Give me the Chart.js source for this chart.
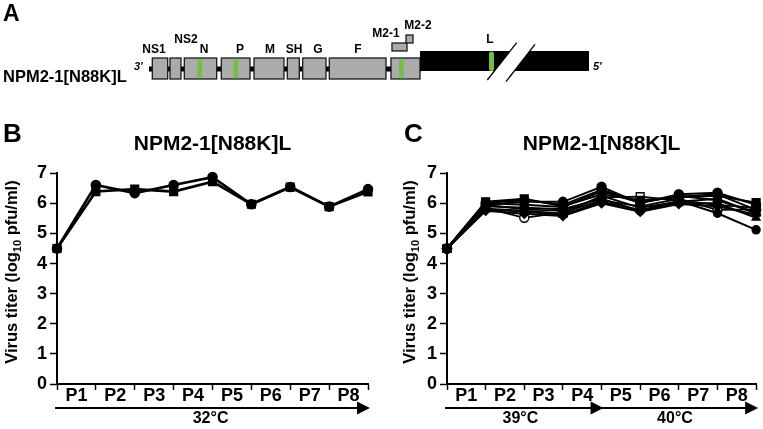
<!DOCTYPE html>
<html>
<head>
<meta charset="utf-8">
<script src="https://cdn.jsdelivr.net/npm/chart.js@4.4.1/dist/chart.umd.min.js"></script>
<style>
  html, body { margin: 0; padding: 0; background: #fff; }
  #page { position: relative; width: 763px; height: 429px; overflow: hidden; }
  #cB { position: absolute; left: 0; top: 110px; }
  #cC { position: absolute; left: 385px; top: 110px; }
  #art { position: absolute; left: 0; top: 0; pointer-events: none; }
</style>
</head>
<body>
<div id="page">
  <canvas id="cB" width="385" height="319"></canvas>
  <canvas id="cC" width="378" height="319"></canvas>
  <svg id="art" width="763" height="429" xmlns="http://www.w3.org/2000/svg"
       font-family="'Liberation Sans', Arial, Helvetica, sans-serif" font-weight="bold">
    <!-- panel A: genome map -->
    <text x="3" y="21" font-size="23">A</text>
    <text x="3" y="82" font-size="16.5">NPM2-1[N88K]L</text>
    <text x="134" y="70" font-size="11" font-style="italic">3'</text>
    <rect x="149" y="66.5" width="272" height="5" fill="#000"/>
    <g fill="#ababab" stroke="#1a1a1a" stroke-width="1.3">
      <rect x="152.3" y="58" width="15.4" height="21"/>
      <rect x="170" y="58" width="11" height="21"/>
      <rect x="184.3" y="58" width="32.4" height="21"/>
      <rect x="221.3" y="58" width="28.7" height="21"/>
      <rect x="254" y="58" width="30" height="21"/>
      <rect x="287.3" y="58" width="12" height="21"/>
      <rect x="302.7" y="58" width="23.3" height="21"/>
      <rect x="329.3" y="58" width="56.7" height="21"/>
      <rect x="391" y="58" width="29" height="21"/>
      <rect x="392" y="43" width="15" height="8"/>
      <rect x="406" y="35" width="7" height="8"/>
    </g>
    <rect x="420" y="51" width="169" height="20" fill="#000"/>
    <polygon points="516.7,42.7 535,44.3 506,81.7 487.3,80" fill="#fff"/>
    <g stroke="#000" stroke-width="1.3">
      <line x1="516.7" y1="42.7" x2="487.3" y2="80"/>
      <line x1="535" y1="44.3" x2="506" y2="81.7"/>
    </g>
    <g fill="#72c043">
      <rect x="197.5" y="58.7" width="4.5" height="19.6" rx="1.5"/>
      <rect x="233.5" y="58.7" width="4.5" height="19.6" rx="1.5"/>
      <rect x="399" y="58.7" width="4.5" height="19.6" rx="1.5"/>
      <rect x="489" y="51.5" width="5" height="19.5" rx="2.5"/>
    </g>
    <g font-size="12" text-anchor="middle">
      <text x="154" y="53">NS1</text>
      <text x="186" y="43">NS2</text>
      <text x="204" y="53">N</text>
      <text x="240" y="53">P</text>
      <text x="270" y="53">M</text>
      <text x="294" y="53">SH</text>
      <text x="318" y="53">G</text>
      <text x="358" y="53">F</text>
      <text x="386" y="37">M2-1</text>
      <text x="418" y="29">M2-2</text>
      <text x="490" y="43">L</text>
    </g>
    <text x="593" y="70" font-size="11" font-style="italic">5'</text>

    <!-- panel letters -->
    <text x="3" y="142" font-size="26">B</text>
    <text x="404" y="142" font-size="26">C</text>

    <!-- y axis titles -->
    <text transform="translate(16.5,272) rotate(-90)" text-anchor="middle" font-size="16.5">Virus titer (log<tspan font-size="11" dy="4">10</tspan><tspan dy="-4"> pfu/ml)</tspan></text>
    <text transform="translate(414.5,272) rotate(-90)" text-anchor="middle" font-size="16.5">Virus titer (log<tspan font-size="11" dy="4">10</tspan><tspan dy="-4"> pfu/ml)</tspan></text>
  </svg>
</div>

<script>
/* ---------- data ---------- */
const chartTitle = 'NPM2-1[N88K]L';
const passages = ['P1', 'P2', 'P3', 'P4', 'P5', 'P6', 'P7', 'P8'];
const xTickValues = [0, 0.5, 1, 1.5, 2, 2.5, 3, 3.5, 4, 4.5, 5, 5.5, 6, 6.5, 7, 7.5, 8];
const yTickValues = [0, 1, 2, 3, 4, 5, 6, 7];

// panel B, 32°C
const b_square = [4.5, 6.39, 6.47, 6.39, 6.72, 5.97, 6.54, 5.89, 6.38];
const b_circle = [4.5, 6.61, 6.34, 6.61, 6.87, 5.97, 6.54, 5.89, 6.47];

// panel C, 39°C then 40°C
const c1 = [4.5, 5.95, 6.05, 6.05, 6.55, 6.0, 6.3, 6.35, 5.95];
const c2 = [4.5, 6.05, 6.15, 5.9, 6.3, 6.1, 6.2, 6.25, 6.02];
const c3 = [4.5, 5.85, 5.52, 5.7, 6.1, 5.9, 6.15, 5.78, 5.8];
const c4 = [4.5, 5.95, 5.8, 5.75, 6.2, 6.22, 6.1, 5.95, 5.85];
const c5 = [4.5, 5.8, 5.72, 5.62, 6.05, 5.78, 6.0, 6.0, 5.52];
const c6 = [4.5, 5.75, 5.65, 5.58, 6.0, 5.72, 5.98, 5.9, 5.62];
const c7 = [4.5, 5.9, 5.85, 5.8, 6.15, 5.75, 6.08, 5.67, 5.12];
const c8 = [4.5, 6.0, 5.95, 5.88, 6.4, 6.02, 6.25, 6.1, 5.7];
const c9 = [4.5, 5.82, 5.75, 5.65, 6.25, 5.85, 6.05, 6.15, 5.66];
const c10 = [4.5, 6.02, 6.1, 5.95, 6.45, 6.05, 6.22, 6.3, 5.78];

const FONT = "'Liberation Sans', Arial, Helvetica, sans-serif";

/* ---------- temperature arrows under the x axis ---------- */
const tempArrows = {
  id: 'tempArrows',
  afterDraw(chart, args, opts) {
    const ctx = chart.ctx, xs = chart.scales.x;
    ctx.save();
    ctx.strokeStyle = '#000'; ctx.fillStyle = '#000'; ctx.lineWidth = 2;
    (opts.segments || []).forEach(s => {
      const x0 = xs.getPixelForValue(s.from) - 2, x1 = xs.getPixelForValue(s.to) + 2;
      const y = opts.y;
      ctx.beginPath(); ctx.moveTo(x0, y); ctx.lineTo(x1 - 12, y); ctx.stroke();
      ctx.beginPath(); ctx.moveTo(x1, y); ctx.lineTo(x1 - 13, y - 6.5); ctx.lineTo(x1 - 13, y + 6.5); ctx.closePath(); ctx.fill();
      ctx.font = 'bold 16px ' + FONT; ctx.textAlign = 'center'; ctx.textBaseline = 'middle';
      ctx.fillText(s.label, xs.getPixelForValue(s.at), opts.labelY);
    });
    ctx.restore();
  }
};

function ds(values, style, filled, radius, lw) {
  return {
    data: values.map((y, i) => ({ x: i, y })),
    borderColor: '#000', borderWidth: lw, backgroundColor: '#000',
    pointStyle: style, pointRadius: radius, pointBorderWidth: 1.4,
    pointBackgroundColor: filled ? '#000' : '#fff', pointBorderColor: '#000',
    tension: 0, fill: false, clip: false
  };
}

function buildChart(id, datasets, cfg) {
  const tickFont = { family: FONT, size: 18, weight: 'bold' };
  return new Chart(document.getElementById(id), {
    type: 'line',
    data: { datasets },
    options: {
      responsive: false, animation: false, devicePixelRatio: 1,
      layout: { padding: { left: 0, right: cfg.padRight, top: 0, bottom: 0 } },
      plugins: {
        legend: { display: false }, tooltip: { enabled: false },
        title: { display: true, text: chartTitle, fullSize: false, color: '#000',
                 font: { family: FONT, size: 21, weight: 'bold' }, padding: { top: 22, bottom: 16 } },
        tempArrows: { segments: cfg.segments, y: 298, labelY: 309 }
      },
      scales: {
        x: {
          type: 'linear', min: 0, max: 8,
          afterBuildTicks: s => { s.ticks = xTickValues.map(v => ({ value: v })); },
          afterFit: s => { s.height = 45; },
          border: { display: true, color: '#000', width: 2 },
          grid: { drawOnChartArea: false, drawTicks: true, tickLength: 6, tickWidth: 1.5,
                  tickColor: c => (c.tick && Number.isInteger(c.tick.value)) ? '#000' : 'rgba(0,0,0,0)' },
          ticks: { autoSkip: false, maxRotation: 0, padding: -5, color: '#000', font: tickFont,
                   callback: v => Number.isInteger(v) ? '' : passages[Math.floor(v)] }
        },
        y: {
          min: 0, max: 7,
          afterBuildTicks: s => { s.ticks = yTickValues.map(v => ({ value: v })); },
          afterFit: s => { s.width = cfg.yWidth; },
          border: { display: true, color: '#000', width: 2 },
          grid: { drawOnChartArea: false, tickLength: 7, tickWidth: 1.5, tickColor: '#000' },
          ticks: { padding: 3, color: '#000', font: tickFont, callback: v => String(v) }
        }
      }
    },
    plugins: [tempArrows]
  });
}

buildChart('cB', [
  ds(b_square, 'rect', true, 5.5, 2.6),
  ds(b_circle, 'circle', true, 4.6, 2.6)
], { yWidth: 57, padRight: 17, segments: [{ from: 0, to: 8, at: 3.95, label: '32°C' }] });

buildChart('cC', [
  ds(c2, 'rect', true, 5.5, 2),
  ds(c1, 'circle', true, 4.5, 2),
  ds(c10, 'circle', true, 4.5, 2),
  ds(c8, 'rect', true, 5, 2),
  ds(c5, 'triangle', true, 4.5, 2),
  ds(c6, 'rectRot', true, 4.5, 2),
  ds(c9, 'triangle', true, 4.5, 2),
  ds(c7, 'circle', true, 4, 2),
  ds(c3, 'circle', false, 4.5, 1.8),
  ds(c4, 'rect', false, 5.5, 1.8)
], { yWidth: 62, padRight: 6, segments: [
  { from: 0, to: 4, at: 1.9, label: '39°C' },
  { from: 4, to: 8, at: 5.9, label: '40°C' }
] });
</script>
</body>
</html>
